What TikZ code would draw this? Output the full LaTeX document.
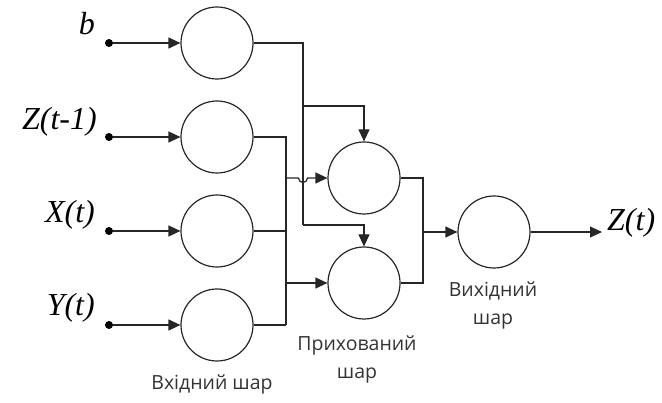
\documentclass[tikz,border=0pt]{standalone}
\usepackage{fontspec}
\setmainfont{Liberation Serif}
\newfontfamily\labelsans{Open Sans}
\usetikzlibrary{arrows.meta}
\begin{document}
\begin{tikzpicture}[x=1pt,y=-1pt,
  wire/.style={line width=1.2pt,draw=black!85},
  arr/.style={wire,-{Triangle[length=12pt,width=11pt]}},
  neuron/.style={circle,draw=black!85,line width=1.2pt,minimum size=72pt,inner sep=0pt},
  dotpt/.style={circle,fill=black,inner sep=0pt,minimum size=8pt},
  varlab/.style={font=\fontsize{32}{32}\selectfont\itshape,inner sep=0pt},
  layerlab/.style={font=\labelsans\fontsize{19.5}{28}\selectfont,text=black!80,align=center,inner sep=0pt}]
\useasboundingbox (0,0) rectangle (662,403);

% input layer
\foreach \i/\y in {1/43,2/137,3/231,4/325}{
  \node[neuron] (in\i) at (217,\y) {};
  \node[dotpt] (d\i) at (109,\y) {};
  \draw[arr] (d\i) -- (in\i);
}
\node[varlab,anchor=base east] (lb) at (95,35) {b};
\node[varlab,anchor=base east] (lz) at (97,130) {Z(t-1)};
\node[varlab,anchor=base east] (lx) at (95,223) {X(t)};
\node[varlab,anchor=base east] (ly) at (95,316) {Y(t)};

% hidden and output layers
\node[neuron] (h1) at (364,178) {};
\node[neuron] (h2) at (364,283) {};
\node[neuron] (out) at (494,232) {};

% bias bus
\coordinate (bb) at (303,43);
\coordinate (bt) at (303,106);
\coordinate (bd) at (303,225);
\draw[wire] (in1.east) -- (bb) -- (bd);
\draw[arr] (bt) -| (h1.north);
\draw[arr] (bd) -| (h2.north);

% input bus
\coordinate (ia) at (286,137);
\coordinate (iz) at (286,325);
\draw[wire] (in2.east) -- (ia) -- (iz);
\draw[wire] (in3.east) -- (286,231);
\draw[wire] (in4.east) -- (iz);
\coordinate (i1) at (286,178);
\coordinate (i2) at (286,283);
\draw[arr] (i1) -- (298.5,178) arc[start angle=180,end angle=0,radius=4.5] -- (h1.west);
\draw[arr] (i2) -- (h2.west);

% hidden to output
\coordinate (ha) at (423,178);
\coordinate (hb) at (423,283);
\draw[wire] (h1.east) -- (ha) -- (hb) -- (h2.east);
\draw[arr] (423,232) -- (out.west);
\coordinate (zo) at (602,232);
\draw[arr] (out.east) -- (zo);
\node[varlab,anchor=base west] (lzo) at (607,231) {Z(t)};

% layer captions
\node[layerlab] (cin) at (212,384) {Вхідний шар};
\node[layerlab] (chid) at (357,359) {Прихований\\шар};
\node[layerlab] (cout) at (493,305) {Вихідний\\шар};
\end{tikzpicture}
\end{document}
